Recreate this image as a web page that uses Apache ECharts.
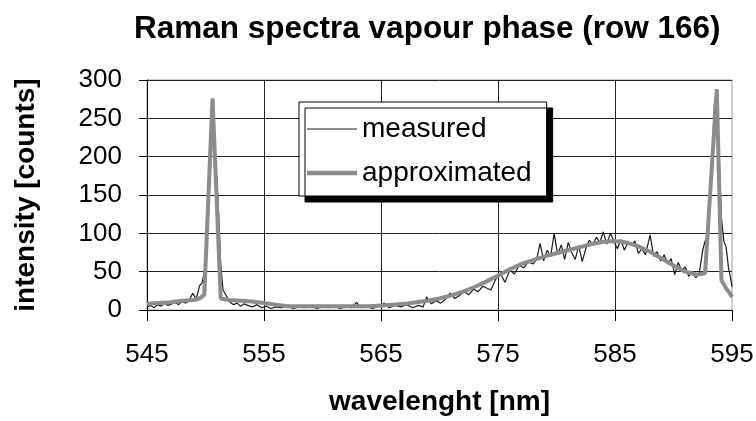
<!DOCTYPE html>
<html>
<head>
<meta charset="utf-8">
<script src="https://cdn.jsdelivr.net/npm/echarts@6/dist/echarts.min.js"></script>
<style>
  html, body { margin: 0; padding: 0; background: #fff; }
  #chart { width: 756px; height: 421px; }
</style>
</head>
<body>
<div id="chart"></div>
<script>
// wavelength [nm] and intensity [counts]
const measuredX = [
  545.0, 545.3, 545.6, 545.9, 546.2, 546.5, 546.8, 547.1, 547.4, 547.7,
  548.0, 548.3, 548.6, 548.9, 549.2, 549.5, 549.7, 549.9, 550.1, 550.3,
  550.5, 550.7, 550.9, 551.1, 551.3, 551.5, 551.8, 552.1, 552.4, 552.7,
  553.0, 553.3, 553.6, 554.0, 554.4, 554.8, 555.2, 555.6, 556.0, 556.5,
  557.0, 557.5, 558.0, 558.5, 559.0, 559.5, 560.0, 560.5, 561.0, 561.5,
  562.0, 562.5, 562.9, 563.3, 563.8, 564.3, 564.8, 565.3, 565.7, 566.2,
  566.7, 567.2, 567.7, 568.2, 568.6, 568.9, 569.3, 569.7, 570.1, 570.5,
  570.9, 571.3, 571.7, 572.1, 572.5, 572.9, 573.3, 573.7, 574.1, 574.4,
  574.8, 575.2, 575.6, 576.0, 576.4, 576.8, 577.2, 577.6, 578.0, 578.3,
  578.6, 578.9, 579.2, 579.5, 579.8, 580.1, 580.4, 580.7, 581.0, 581.3,
  581.6, 581.9, 582.2, 582.5, 582.8, 583.1, 583.4, 583.7, 584.0, 584.3,
  584.6, 584.9, 585.2, 585.5, 585.8, 586.1, 586.4, 586.7, 587.0, 587.3,
  587.6, 588.0, 588.3, 588.6, 588.9, 589.2, 589.5, 589.8, 590.1, 590.4,
  590.7, 591.0, 591.3, 591.6, 591.9, 592.2, 592.5, 592.7, 592.9, 593.1,
  593.3, 593.5, 593.7, 593.9, 594.1, 594.3, 594.5, 594.7, 594.9, 595.0
];
const measuredY = [
  4, 6, 3, 7, 5, 9, 6, 8, 10, 7,
  11, 9, 12, 22, 14, 32, 35, 50, 100, 170,
  262, 240, 189, 134, 60, 26, 18, 10, 7, 9,
  5, 8, 6, 4, 7, 3, 5, 2, 4, 3,
  5, 2, 4, 3, 6, 2, 4, 3, 5, 2,
  4, 3, 10, 3, 4, 2, 5, 9, 3, 6,
  4, 7, 3, 6, 4, 17, 8, 12, 9, 14,
  22, 15, 19, 24, 20, 27, 24, 31, 28, 26,
  40, 48, 36, 52, 47, 58, 55, 63, 60, 66,
  87, 64, 78, 70, 100, 72, 85, 66, 88, 75,
  66, 84, 63, 80, 91, 85, 95, 88, 102, 86,
  100, 90, 80, 92, 78, 88, 84, 90, 74, 80,
  72, 98, 70, 76, 64, 72, 60, 67, 46, 62,
  52, 56, 44, 50, 42, 48, 78, 90, 95, 130,
  200, 270, 280, 200, 120, 90, 82, 55, 40, 30
];
const approxX = [
  545.0, 546.0, 547.0, 548.0, 549.0, 549.5, 549.9, 550.6, 551.3, 552.0,
  553.0, 554.0, 555.0, 556.0, 557.0, 558.0, 560.0, 562.0, 564.0, 565.0,
  566.0, 567.0, 568.0, 569.0, 570.0, 571.0, 572.0, 573.0, 574.0, 575.0,
  576.0, 577.0, 578.0, 579.0, 580.0, 581.0, 582.0, 583.0, 584.0, 585.0,
  586.0, 587.0, 588.0, 589.0, 590.0, 591.0, 592.0, 592.7, 593.7, 594.1,
  594.5, 594.8, 595.0
];
const approxY = [
  8, 9, 10, 12, 13, 15, 20, 276, 15, 13,
  12, 11, 9, 7, 5, 5, 5, 5, 5, 6,
  7, 8, 10, 12, 15, 19, 24, 30, 37, 45,
  53, 60, 65, 70, 74, 78, 82, 86, 89, 90,
  88, 83, 76, 67, 58, 50, 46, 48, 288, 39,
  28, 22, 17
];
const xTicks = [545, 555, 565, 575, 585, 595];

const font = 'Liberation Sans, Arial, sans-serif';
const pairs = (xs, ys) => xs.map((x, i) => [x, ys[i]]);
const measuredColor = '#1a1a1a';
const approxColor = '#8c8c8c';

const chart = echarts.init(document.getElementById('chart'));
chart.setOption({
  animation: false,
  backgroundColor: '#fff',
  title: {
    text: 'Raman spectra vapour phase (row 166)',
    left: 129,
    top: 8,
    textStyle: { fontFamily: font, fontSize: 31.5, fontWeight: 'bold', color: '#000' },
  },
  grid: {
    left: 147, right: 24, top: 80, bottom: 111,
    outerBoundsMode: 'none',
    show: true, borderColor: '#999', borderWidth: 1,
  },
  legend: {
    orient: 'vertical',
    left: 299,
    top: 102,
    padding: [13, 15, 9, 8],
    itemWidth: 50,
    itemHeight: 14,
    itemGap: 16,
    backgroundColor: '#fff',
    borderColor: '#000',
    borderWidth: 1,
    shadowColor: '#000',
    shadowBlur: 0,
    shadowOffsetX: 6,
    shadowOffsetY: 6,
    textStyle: { fontFamily: font, fontSize: 28, color: '#000' },
    // plain line samples, thin for the measured, thick for the fit
    data: [
      { name: 'measured', icon: 'path://M0 0 H50 V1 H0 Z', itemStyle: { color: measuredColor } },
      { name: 'approximated', icon: 'path://M0 0 H50 V4.5 H0 Z', itemStyle: { color: approxColor } },
    ],
  },
  xAxis: {
    type: 'value',
    min: xTicks[0],
    max: xTicks[xTicks.length - 1],
    interval: 10,
    name: 'wavelenght [nm]',
    nameLocation: 'middle',
    nameGap: 78,
    nameTextStyle: { fontFamily: font, fontSize: 28, fontWeight: 'bold', color: '#000' },
    axisLine: { show: true, lineStyle: { color: '#000', width: 1 } },
    axisTick: { show: true, length: 11, lineStyle: { color: '#000' } },
    axisLabel: { fontFamily: font, fontSize: 26, color: '#000', margin: 32 },
    splitLine: { show: true, showMinLine: false, showMaxLine: false, lineStyle: { color: '#222', width: 1 } },
  },
  yAxis: {
    type: 'value',
    min: 0,
    max: 300,
    interval: 50,
    name: 'intensity [counts]',
    nameLocation: 'middle',
    nameRotate: 90,
    nameGap: 107,
    nameTextStyle: { fontFamily: font, fontSize: 28, fontWeight: 'bold', color: '#000' },
    axisLine: { show: true, lineStyle: { color: '#000', width: 1 } },
    axisTick: { show: true, length: 8, lineStyle: { color: '#000' } },
    axisLabel: { fontFamily: font, fontSize: 26, color: '#000', margin: 25 },
    splitLine: { show: true, showMinLine: false, showMaxLine: true, lineStyle: { color: '#222', width: 1 } },
  },
  series: [
    {
      name: 'measured',
      type: 'line',
      symbol: 'none',
      data: pairs(measuredX, measuredY),
      lineStyle: { color: measuredColor, width: 1.2 },
      itemStyle: { color: measuredColor },
    },
    {
      name: 'approximated',
      type: 'line',
      symbol: 'none',
      data: pairs(approxX, approxY),
      lineStyle: { color: approxColor, width: 4 },
      itemStyle: { color: approxColor },
    },
  ],
});
</script>
</body>
</html>
